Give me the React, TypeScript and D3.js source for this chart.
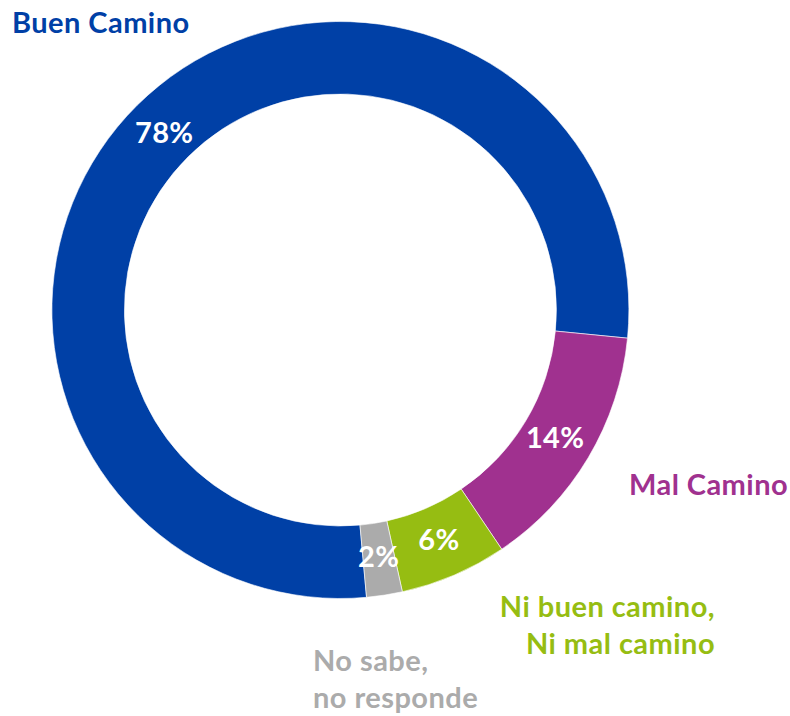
import React from 'react'
import * as d3 from 'd3'

const categories = ['Buen Camino', 'Mal Camino', 'Ni buen camino, Ni mal camino', 'No sabe, no responde']
const values = [78, 14, 6, 2]
const percentLabels = ['78%', '14%', '6%', '2%']
const colors = ['#0040A6', '#A0318F', '#96BD12', '#ABABAB']

// outside labels, one entry per category (lines of text)
const outerLabelLines = [['Buen Camino'], ['Mal Camino'], ['Ni buen camino,', 'Ni mal camino'], ['No sabe,', 'no responde']]

const width = 790
const height = 716

export default function App() {
  const cx = 340.4
  const cy = 310
  const outerR = 288.5
  const innerR = 216

  // first slice starts a bit before 6 o'clock, clockwise
  const start = (174.8 / 180) * Math.PI
  const pie = d3.pie<number>()
    .sort(null)
    .startAngle(start)
    .endAngle(start + 2 * Math.PI)
  const arcs = pie(values)

  const arc = d3.arc<d3.PieArcDatum<number>>()
    .innerRadius(innerR)
    .outerRadius(outerR)

  const labelArc = d3.arc<d3.PieArcDatum<number>>()
    .innerRadius(250)
    .outerRadius(250)

  // outside label placement: [x, y of first baseline, anchor]
  const outerPos: [number, number, string][] = [
    [12, 33, 'start'],
    [629, 495, 'start'],
    [715, 617, 'end'],
    [313, 671, 'start']
  ]

  return (
    <svg width={width} height={height} style={{ position: 'absolute', left: 0, top: 0 }}
      fontFamily='Lato, "Open Sans", sans-serif' fontWeight='bold'>
      <rect width={width} height={height} fill='#fff' />
      <g transform={`translate(${cx},${cy})`}>
        {arcs.map((a, i) => (
          <path key={categories[i]} d={arc(a) || ''} fill={colors[i]} stroke='#fff' strokeWidth={0.6} />
        ))}
        {arcs.map((a, i) => {
          const [x, y] = labelArc.centroid(a)
          return (
            <text key={'p' + i} x={x} y={y} dy='0.36em' textAnchor='middle' fill='#fff' fontSize={29}
              letterSpacing={0.3}>
              {percentLabels[i]}
            </text>
          )
        })}
      </g>
      {outerLabelLines.map((lines, i) => (
        <text key={'o' + i} x={outerPos[i][0]} y={outerPos[i][1]} textAnchor={outerPos[i][2]}
          fill={colors[i]} fontSize={29} letterSpacing={0.45}>
          {lines.map((l, j) => (
            <tspan key={j} x={outerPos[i][0]} dy={j === 0 ? 0 : 37}>{l}</tspan>
          ))}
        </text>
      ))}
    </svg>
  )
}
